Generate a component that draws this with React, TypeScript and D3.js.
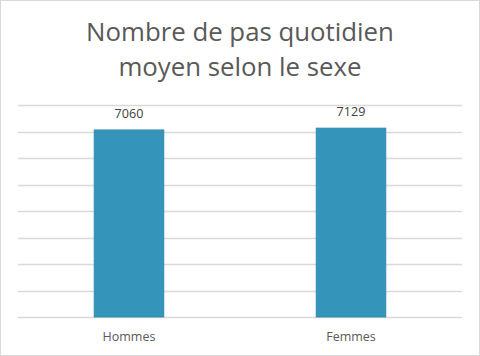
import React from "react";
import * as d3 from "d3";

const categories: string[] = ["Hommes", "Femmes"];
const values: number[] = [7060, 7129];
const yTicks: number[] = [0, 1000, 2000, 3000, 4000, 5000, 6000, 7000, 8000];
const titleLines: string[] = ["Nombre de pas quotidien", "moyen selon le sexe"];

const W = 480;
const H = 356;
const plot = { left: 18, right: 462, top: 105, bottom: 317 };
const FONT = "'Open Sans', 'Liberation Sans', sans-serif";

export default function App() {
  const x = d3
    .scaleBand<string>()
    .domain(categories)
    .range([plot.left, plot.right])
    .paddingInner(0.686)
    .paddingOuter(0.343);
  const y = d3.scaleLinear().domain([0, 8000]).range([plot.bottom, plot.top]);

  return (
    <svg
      width={W}
      height={H}
      style={{ position: "absolute", left: 0, top: 0, display: "block" }}
    >
      <rect x={0} y={0} width={W} height={H} fill="#ffffff" />
      <rect x={0.5} y={0.5} width={W - 1} height={H - 1} fill="none" stroke="#d9d9d9" />
      {titleLines.map((t, i) => (
        <text
          key={t}
          x={W / 2}
          y={41 + i * 35}
          textAnchor="middle"
          fontFamily={FONT}
          fontSize={25.8}
          fill="#595959"
        >
          {t}
        </text>
      ))}
      {yTicks.map((t) => (
        <line
          key={t}
          x1={plot.left}
          x2={plot.right}
          y1={Math.round(y(t)) + 0.5}
          y2={Math.round(y(t)) + 0.5}
          stroke="#d9d9d9"
          strokeWidth={1.3}
        />
      ))}
      {categories.map((c, i) => (
        <g key={c}>
          <rect
            x={x(c)!}
            y={y(values[i])}
            width={x.bandwidth()}
            height={y(0) - y(values[i])}
            fill="#3494ba"
            stroke="#2f88ac"
            strokeWidth={0.8}
          />
          <text
            x={x(c)! + x.bandwidth() / 2}
            y={y(values[i]) - 12}
            textAnchor="middle"
            fontFamily={FONT}
            fontSize={12.6}
            fill="#404040"
          >
            {values[i]}
          </text>
          <text
            x={x(c)! + x.bandwidth() / 2}
            y={340.5}
            textAnchor="middle"
            fontFamily={FONT}
            fontSize={12.5}
            fill="#595959"
          >
            {c}
          </text>
        </g>
      ))}
    </svg>
  );
}
